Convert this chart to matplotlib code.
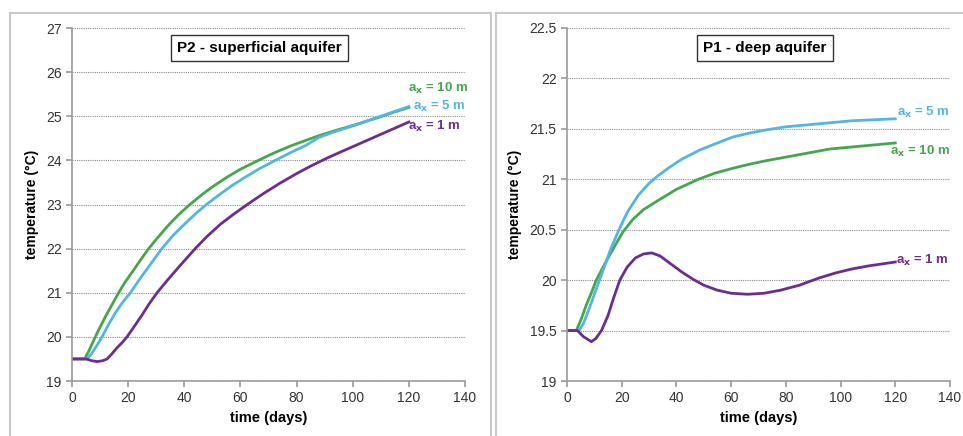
import numpy as np
import matplotlib.pyplot as plt
from matplotlib.patches import Rectangle

plt.rcParams['font.family'] = ['Liberation Sans Narrow', 'Liberation Sans', 'DejaVu Sans']
plt.rcParams['mathtext.default'] = 'bf'

# P2 - superficial aquifer (time in days, temperature in °C)
p2_green_t = [0, 4.5, 6, 8.3, 10, 12, 14, 16.6, 19, 22, 24.5, 27.3, 30, 34.2, 38, 42, 46, 50, 55, 60,
              66.4, 72, 78, 84, 88, 94, 100, 105, 110, 115, 120]
p2_green_T = [19.5, 19.5, 19.68, 20.0, 20.22, 20.47, 20.7, 21.0, 21.25, 21.52, 21.75, 22.0, 22.21, 22.52,
              22.77, 23.0, 23.21, 23.4, 23.61, 23.8, 24.0, 24.17, 24.33, 24.47, 24.56, 24.68, 24.79,
              24.89, 24.99, 25.1, 25.2]
p2_blue_t = [0, 5.3, 7, 9, 10.7, 13, 15.5, 18, 20.8, 24, 28, 32, 36, 40, 44, 47.5, 52, 57, 62, 67, 73,
             78, 83, 88, 94, 100, 105, 110, 115, 120]
p2_blue_T = [19.5, 19.5, 19.62, 19.82, 20.0, 20.28, 20.55, 20.78, 21.0, 21.3, 21.65, 22.0, 22.3, 22.55,
             22.79, 22.98, 23.2, 23.43, 23.63, 23.82, 24.02, 24.18, 24.33, 24.52, 24.66, 24.78, 24.89,
             25.0, 25.11, 25.22]
p2_purple_t = [0, 5, 7, 9, 11, 12.5, 14, 16, 18, 19.6, 22, 25, 27.5, 30.3, 34.2, 38, 43.9, 48, 53, 58,
               62.9, 68, 74, 80, 85, 90.8, 95, 100, 105, 110, 115, 120]
p2_purple_T = [19.5, 19.5, 19.46, 19.44, 19.46, 19.5, 19.6, 19.75, 19.88, 20.0, 20.22, 20.5, 20.75, 21.0,
               21.3, 21.58, 22.0, 22.27, 22.56, 22.8, 23.02, 23.24, 23.48, 23.7, 23.87, 24.05, 24.17,
               24.31, 24.45, 24.59, 24.73, 24.87]

# P1 - deep aquifer
p1_blue_t = [0, 4.4, 6, 8, 10, 12, 14, 16, 19, 22, 26, 30, 33, 37, 42, 48.5, 55, 60.7, 67, 72.9, 80,
             88, 96, 104, 112, 120]
p1_blue_T = [19.5, 19.5, 19.57, 19.71, 19.86, 20.01, 20.16, 20.31, 20.5, 20.67, 20.84, 20.96, 21.03,
             21.11, 21.2, 21.29, 21.36, 21.42, 21.46, 21.49, 21.52, 21.54, 21.56, 21.58, 21.59, 21.6]
p1_green_t = [0, 3.4, 5, 7, 9, 10.7, 13, 15, 17.5, 20.5, 24, 28, 33.9, 40, 48, 54, 60.7, 66, 72.9, 80,
              88, 96, 104, 112, 120]
p1_green_T = [19.5, 19.5, 19.6, 19.75, 19.88, 20.0, 20.12, 20.22, 20.34, 20.48, 20.6, 20.7, 20.8, 20.9,
              21.0, 21.06, 21.11, 21.145, 21.185, 21.22, 21.26, 21.3, 21.32, 21.34, 21.36]
p1_purple_t = [0, 3.8, 6, 8.9, 10.5, 12.6, 15, 17, 19.3, 22, 25, 28, 31, 34, 38, 42, 46, 50, 55, 60, 66,
               72, 78, 85, 92, 98, 104, 110, 115, 120]
p1_purple_T = [19.5, 19.5, 19.44, 19.39, 19.42, 19.5, 19.65, 19.82, 20.0, 20.13, 20.22, 20.26, 20.27,
               20.24, 20.16, 20.08, 20.01, 19.95, 19.9, 19.87, 19.86, 19.87, 19.9, 19.95, 20.02, 20.07,
               20.11, 20.14, 20.16, 20.18]

green = '#46a64e'
blue = '#52b5e3'
purple = '#6b2d8f'
grey = '#9a9a9a'

fig = plt.figure(figsize=(9.63, 4.36), dpi=100)

# panel frames
for x0, w in [(10, 481), (496, 470)]:
    fig.patches.append(Rectangle((x0 / 963, -0.01), w / 963, (436 - 13) / 436 + 0.01,
                                 transform=fig.transFigure, fill=False, ec='#c8c8c8', lw=1.5))


def style(ax, ylo, yhi, ystep):
    ax.set_xlim(0, 140)
    ax.set_ylim(ylo, yhi)
    ax.set_xticks(np.arange(0, 141, 20))
    yt = np.arange(ylo, yhi + 1e-9, ystep)
    ax.set_yticks(yt)
    ax.set_yticklabels([f'{v:g}' for v in yt])
    ax.grid(axis='y', ls=(0, (1, 1)), color='#8f8a8a', lw=0.8)
    for s in ['top', 'right']:
        ax.spines[s].set_visible(False)
    for s in ['left', 'bottom']:
        ax.spines[s].set_color(grey)
        ax.spines[s].set_linewidth(1.2)
    ax.tick_params(colors=grey, labelcolor='#333333', labelsize=10, length=4, width=1.2)
    ax.set_xlabel('time (days)', fontsize=10.5, fontweight='bold', labelpad=4)
    ax.set_ylabel('temperature (°C)', fontsize=10, fontweight='bold', labelpad=5)
    ax.set_axisbelow(True)


lab = dict(ha='right', va='center', fontsize=9.5, fontweight='bold', clip_on=False)
box = dict(boxstyle='square,pad=0.4', fc='white', ec='#333333', lw=1)

ax1 = fig.add_axes([72 / 963, 55 / 436, 393 / 963, 353 / 436])
ax1.plot(p2_green_t, p2_green_T, color=green, lw=2)
ax1.plot(p2_blue_t, p2_blue_T, color=blue, lw=2)
ax1.plot(p2_purple_t, p2_purple_T, color=purple, lw=2)
style(ax1, 19, 27, 1)
ax1.text(66.9, 26.55, 'P2 - superficial aquifer', ha='center', va='center', fontsize=11,
         fontweight='bold', bbox=box)
ax1.text(141.2, 25.62, 'a$_x$ = 10 m', color=green, **lab)
ax1.text(140.3, 25.22, 'a$_x$ = 5 m', color=blue, **lab)
ax1.text(138.6, 24.77, 'a$_x$ = 1 m', color=purple, **lab)

ax2 = fig.add_axes([567 / 963, 55 / 436, 383 / 963, 353 / 436])
ax2.plot(p1_green_t, p1_green_T, color=green, lw=2)
ax2.plot(p1_blue_t, p1_blue_T, color=blue, lw=2)
ax2.plot(p1_purple_t, p1_purple_T, color=purple, lw=2)
style(ax2, 19, 22.5, 0.5)
ax2.text(72.3, 22.30, 'P1 - deep aquifer', ha='center', va='center', fontsize=11,
         fontweight='bold', bbox=box)
ax2.text(140, 21.66, 'a$_x$ = 5 m', color=blue, **lab)
ax2.text(140, 21.28, 'a$_x$ = 10 m', color=green, **lab)
ax2.text(139.4, 20.2, 'a$_x$ = 1 m', color=purple, **lab)

fig.savefig('out.png', dpi=100)
